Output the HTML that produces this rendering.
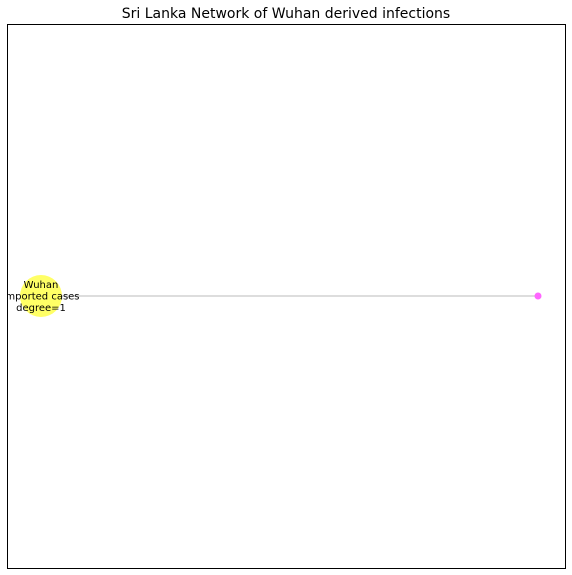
<!DOCTYPE html>
<html><head><meta charset="utf-8"><style>
html,body{margin:0;padding:0;background:#fff;width:572px;height:575px;overflow:hidden}
text{font-family:"DejaVu Sans","Liberation Sans",sans-serif}
</style></head><body>
<svg width="572" height="575">
<text x="286" y="18" text-anchor="middle" font-size="14">Sri Lanka Network of Wuhan derived infections</text>
<defs><clipPath id="ax"><rect x="8" y="24" width="557" height="544"/></clipPath></defs>
<g id="g" clip-path="url(#ax)"></g>
<rect x="7.5" y="24.5" width="558" height="544" fill="none" stroke="#000" stroke-width="1"/>
</svg>
<script>
const nodeNames=["Wuhan","Case 1"];
const nodeX=[0,1];
const nodeY=[0,0];
const nodeSizes=[21,3.5];
const nodeColors=["#ffff66","#ff66ff"];
const edges=[[0,1]];
const nodeLabels=[["Wuhan","Imported cases","degree=1"],[]];
const sx=v=>41+v*(538-41);
const sy=v=>296-v*100;
const g=document.getElementById('g');
const NS="http://www.w3.org/2000/svg";
edges.forEach(e=>{
 const l=document.createElementNS(NS,'line');
 l.setAttribute('x1',sx(nodeX[e[0]]));l.setAttribute('y1',sy(nodeY[e[0]]));
 l.setAttribute('x2',sx(nodeX[e[1]]));l.setAttribute('y2',sy(nodeY[e[1]]));
 l.setAttribute('stroke','#dddddd');l.setAttribute('stroke-width','2');
 
 
 g.appendChild(l);
});
nodeNames.forEach((n,i)=>{
 const c=document.createElementNS(NS,'circle');
 c.setAttribute('cx',sx(nodeX[i]));c.setAttribute('cy',sy(nodeY[i]));
 c.setAttribute('r',nodeSizes[i]);c.setAttribute('fill',nodeColors[i]);
 
 
 g.appendChild(c);
 nodeLabels[i].forEach((t,k)=>{
  const tx=document.createElementNS(NS,'text');
  tx.setAttribute('x',sx(nodeX[i]));tx.setAttribute('y',sy(nodeY[i])-8+k*11.5);
  tx.setAttribute('text-anchor','middle');tx.setAttribute('font-size','10');
  
  
  tx.textContent=t;g.appendChild(tx);
 });
});
</script>
</body></html>
